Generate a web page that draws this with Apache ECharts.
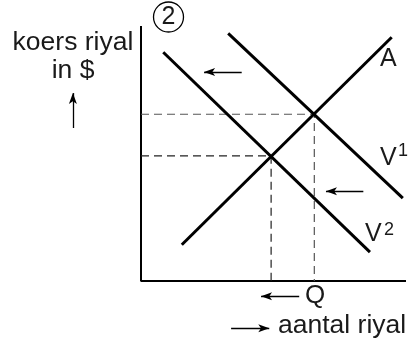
<!DOCTYPE html>
<html>
<head>
<meta charset="utf-8">
<script src="https://cdn.jsdelivr.net/npm/echarts@6/dist/echarts.min.js"></script>
<style>
    html, body { margin: 0; padding: 0; background: #fff; }
    #chart { width: 412px; height: 347px; }
</style>
</head>
<body>
<div id="chart"></div>
<script>
// 数据（坐标轴 0 - 10）
var axisPath = [[0, 10], [0, 0], [10, 0]];
var lineA = [[1.54, 1.42], [9.46, 9.56]];
var lineV1 = [[3.29, 9.71], [9.88, 3.25]];
var lineV2 = [[0.84, 8.97], [8.64, 1.13]];
var eqHigh = [6.54, 6.54];
var eqLow = [4.91, 4.91];

// 箭头 [起点, 终点]
var arrowShiftV2 = [[3.80, 8.20], [2.38, 8.20]];
var arrowShiftV1 = [[8.39, 3.52], [6.98, 3.52]];
var arrowQ = [[5.97, -0.60], [4.53, -0.60]];
var arrowX = [[3.40, -1.85], [4.84, -1.85]];
var arrowY = [[-2.57, 6.00], [-2.57, 7.37]];

// 文字
var yTitle = ['koers riyal', 'in $'];
var xTitle = 'aantal riyal';
var qLabel = 'Q';

var FONT = '"Liberation Sans", Arial, sans-serif';

function dashedPath (p) {
    return [[0, p[1]], [p[0], p[1]], [p[0], 0]];
}

function solidLine (name, data, width) {
    return {
        name: name,
        type: 'line',
        data: data,
        symbol: 'none',
        silent: true,
        lineStyle: { color: '#000', width: width }
    };
}

function arrowItem (a) {
    return [{ coord: a[0] }, { coord: a[1] }];
}

function txt (text, x, y, size, align) {
    return {
        type: 'text',
        style: {
            text: text,
            x: x,
            y: y,
            font: size + 'px ' + FONT,
            fill: '#1a1a1a',
            align: align || 'left',
            verticalAlign: 'middle'
        }
    };
}

var option = {
    animation: false,
    grid: { left: 0, right: 0, top: 0, bottom: 0 },
    xAxis: { type: 'value', min: -5.3208, max: 10.2264, show: false },
    yAxis: { type: 'value', min: -2.588, max: 11.0196, show: false },
    series: [
        solidLine('axes', axisPath, 2),
        {
            name: 'dashHigh',
            type: 'line',
            data: dashedPath(eqHigh),
            symbol: 'none',
            silent: true,
            lineStyle: { color: '#555', width: 1.2, type: [8, 5] }
        },
        {
            name: 'dashLow',
            type: 'line',
            data: dashedPath(eqLow),
            symbol: 'none',
            silent: true,
            lineStyle: { color: '#222', width: 1.2, type: [8, 5] }
        },
        solidLine('A', lineA, 3),
        solidLine('V1', lineV1, 3),
        solidLine('V2', lineV2, 3),
        {
            name: 'arrows',
            type: 'line',
            data: [],
            markLine: {
                silent: true,
                symbol: ['none', 'arrow'],
                symbolSize: [6, 11],
                label: { show: false },
                lineStyle: { color: '#000', width: 1.3, type: 'solid' },
                data: [
                    arrowItem(arrowShiftV2),
                    arrowItem(arrowShiftV1),
                    arrowItem(arrowQ),
                    arrowItem(arrowX),
                    arrowItem(arrowY)
                ]
            }
        }
    ],
    graphic: [
        txt(yTitle[0], 73, 42.5, 26.5, 'center'),
        txt(yTitle[1], 73, 71, 26.5, 'center'),
        txt('A', 380, 59.5, 25),
        txt('V', 380, 158, 25),
        txt('1', 398, 151, 18),
        txt('V', 365, 234.5, 25),
        txt('2', 384, 230, 18),
        txt(qLabel, 315, 296, 26, 'center'),
        txt(xTitle, 278, 326, 26.5),
        {
            type: 'circle',
            shape: { cx: 168.5, cy: 17, r: 15 },
            style: { fill: 'none', stroke: '#000', lineWidth: 1.3 }
        },
        txt('2', 168.5, 17.5, 25, 'center')
    ]
};

var chart = echarts.init(document.getElementById('chart'), null, { renderer: 'canvas' });
chart.setOption(option);
</script>
</body>
</html>
